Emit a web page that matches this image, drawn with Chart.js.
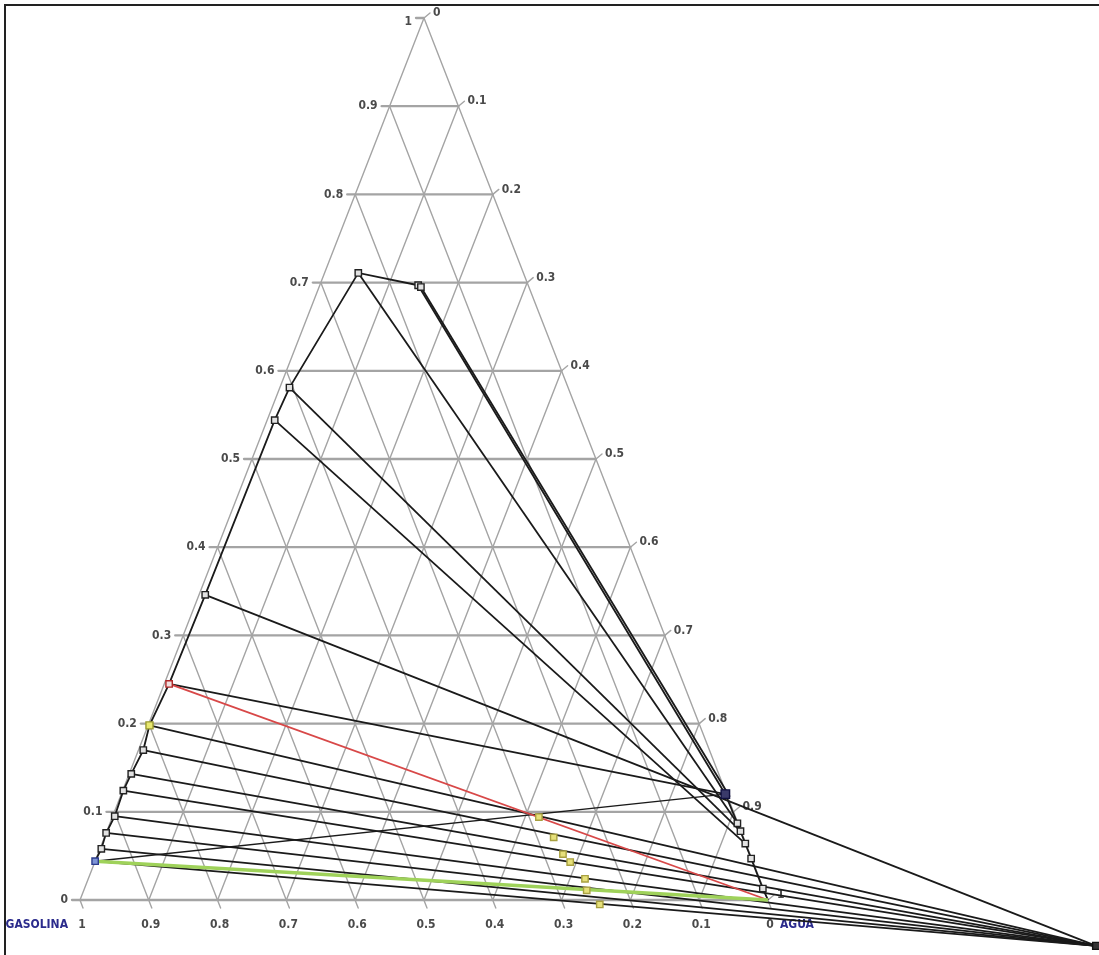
<!DOCTYPE html>
<html><head><meta charset="utf-8">
<script src="https://cdn.jsdelivr.net/npm/chart.js@4.4.0/dist/chart.umd.min.js"></script>
<style>html,body{margin:0;padding:0;background:#fff;overflow:hidden}#wrap{width:1099px;height:955px}</style>
</head><body><div id="wrap"><canvas id="c" width="1099" height="955"></canvas></div>
<script>
// Compositions are [agua, soluto]; gasolina = 1 - agua - soluto
const leftTicks   = ['0','0.1','0.2','0.3','0.4','0.5','0.6','0.7','0.8','0.9','1'];
const rightTicks  = ['1','0.9','0.8','0.7','0.6','0.5','0.4','0.3','0.2','0.1','0'];
const bottomTicks = ['1','0.9','0.8','0.7','0.6','0.5','0.4','0.3','0.2','0.1','0'];
const cornerLabels = ['GASOLINA','AGUA'];

// gasoline-rich phase (left branch)
const raffinate = [
  [0.000,0.044],[0.002,0.058],[0.000,0.076],[0.003,0.095],[0.001,0.124],
  [0.003,0.143],[0.007,0.170],[0.002,0.198],[0.007,0.245],[0.009,0.346],
  [0.011,0.544],[0.014,0.581],[0.049,0.711]
];
const plaitPoints = [[0.143,0.697],[0.148,0.695]];
// water-rich phase (right branch)
const extract = [
  [0.878,0.120],[0.912,0.087],[0.921,0.078],[0.935,0.064],[0.952,0.047],[0.986,0.013],[1.000,0.000]
];
const extractTwin = [0.886,0.117];
const mixPoints = [[0.620,0.094],[0.653,0.071],[0.676,0.052],[0.691,0.043],[0.722,0.024],[0.731,0.011],[0.758,-0.005]];
const deltaPoint = [1.503,-0.052];
// tie lines: [raffinate index, extract index]
const tieLines = [[12,1],[11,2],[10,3],[8,0]];
// operating lines to delta point from raffinate indices
const deltaLines = [0,1,2,3,4,5,6,7,9];

function P(c){ return {x: c[0] + c[1]/2, y: c[1]}; }
function lineDS(pts, color, width, order){
  return {data: pts.map(P), showLine:true, borderColor:color, borderWidth:width,
    pointRadius:0, pointHoverRadius:0, fill:false, tension:0, order:order};
}
function markDS(pts, fill, stroke, r){
  return {data: pts.map(P), showLine:false, pointStyle:'rect', pointRadius:r,
    backgroundColor:fill, borderColor:stroke, borderWidth:1.4, order:0};
}
const BLACK = '#1a1a1a';
const datasets = [];
datasets.push(lineDS(raffinate.concat([plaitPoints[0]]), BLACK, 1.8, 6));
datasets.push(lineDS([plaitPoints[0], extract[0]], BLACK, 1.8, 6));
datasets.push(lineDS([plaitPoints[1], extractTwin], BLACK, 1.8, 6));
datasets.push(lineDS(extract, BLACK, 1.8, 6));
tieLines.forEach(t => datasets.push(lineDS([raffinate[t[0]], extract[t[1]]], BLACK, 1.8, 6)));
deltaLines.forEach(i => datasets.push(lineDS([raffinate[i], deltaPoint], BLACK, 1.8, 6)));
datasets.push(lineDS([raffinate[0], extract[0]], BLACK, 1.4, 6));
datasets.push(lineDS([raffinate[8], extract[6]], '#d84848', 1.8, 4));
datasets.push(lineDS([raffinate[0], extract[6]], '#9fd25a', 3.5, 3));
// markers
datasets.push(markDS(raffinate.filter((c,i)=>i!==0&&i!==7&&i!==8).concat(plaitPoints), '#e2e2e2', '#222', 4.5));
datasets.push(markDS(extract.slice(1,6), '#e2e2e2', '#222', 4.5));
datasets.push(markDS([raffinate[0]], '#7d93d6', '#2c3c8c', 4.5));
datasets.push(markDS([raffinate[7]], '#e8e870', '#9a9a30', 5));
datasets.push(markDS([raffinate[8]], '#f0e0e0', '#b02828', 4.5));
datasets.push(markDS([extract[0]], '#3a3a6a', '#101040', 6));
datasets.push(markDS(mixPoints, '#e6e07a', '#a8a040', 4.5));
datasets.push(markDS([deltaPoint], '#333', '#111', 5));

const FONT = 'bold 12px "Liberation Sans Narrow", "Arial Narrow", "DejaVu Sans Condensed", sans-serif';
const gridPlugin = {
  id:'ternaryGrid',
  beforeDatasetsDraw(chart){
    const ctx = chart.ctx, sx = chart.scales.x, sy = chart.scales.y;
    const px = c => { const p = P(c); return [sx.getPixelForValue(p.x), sy.getPixelForValue(p.y)]; };
    ctx.save();
    ctx.strokeStyle = '#a4a4a4';
    ctx.lineCap = 'round';
    // horizontal lines (constant soluto)
    for (let i=0;i<=10;i++){
      const v=i/10;
      const a=px([0,v]), b=px([1-v,v]);
      ctx.lineWidth = 2.3;
      ctx.beginPath(); ctx.moveTo(a[0]-8,a[1]); ctx.lineTo(b[0],b[1]); ctx.stroke();
    }
    ctx.lineWidth = 1.4;
    for (let i=0;i<=10;i++){
      const v=i/10;
      // constant agua lines (agua = v)
      let a=px([v,0]), b=px([v,1-v]);
      ctx.beginPath(); ctx.moveTo(a[0],a[1]); ctx.lineTo(b[0],b[1]); ctx.stroke();
      // right tick
      ctx.beginPath(); ctx.moveTo(b[0],b[1]); ctx.lineTo(b[0]+6,b[1]-5); ctx.stroke();
      // constant gasolina lines (gasolina = 1 - v)
      a=px([v,0]); b=px([0,v]);
      ctx.beginPath(); ctx.moveTo(a[0]+3,a[1]+8); ctx.lineTo(b[0],b[1]); ctx.stroke();
    }
    // labels
    ctx.font = FONT; ctx.fillStyle = '#4a4a4a'; ctx.textBaseline='middle';
    for (let i=0;i<=10;i++){
      const v=i/10;
      const l=px([0,v]);
      ctx.textAlign='right'; ctx.fillText(leftTicks[i], l[0]-12, l[1]+(i===10?4:0));
      const r=px([1-v,v]);
      ctx.textAlign='left'; ctx.fillText(rightTicks[i], r[0]+9, r[1]-5);
      const btm=px([v,0]);
      ctx.textAlign='center'; ctx.fillText(bottomTicks[i], btm[0]+2, btm[1]+25);
    }
    ctx.fillStyle = '#2b2b8c';
    const g=px([0,0]), w=px([1,0]);
    ctx.textAlign='right'; ctx.fillText(cornerLabels[0], g[0]-12, g[1]+25);
    ctx.textAlign='left'; ctx.fillText(cornerLabels[1], w[0]+12, w[1]+25);
    ctx.restore();
  },
  afterDraw(chart){
    const ctx=chart.ctx;
    ctx.save(); ctx.strokeStyle='#222'; ctx.lineWidth=2;
    ctx.beginPath(); ctx.moveTo(5,960); ctx.lineTo(5,5); ctx.lineTo(1105,5); ctx.stroke();
    ctx.restore();
  }
};

new Chart(document.getElementById('c'), {
  type:'scatter',
  data:{datasets},
  options:{
    responsive:false, animation:false, devicePixelRatio:1, events:[],
    layout:{padding:0, autoPadding:false},
    plugins:{legend:{display:false}, tooltip:{enabled:false}},
    scales:{
      x:{type:'linear', display:false, min:-80/688, max:1019/688},
      y:{type:'linear', display:false, min:-55/882, max:900/882}
    }
  },
  plugins:[gridPlugin]
});
</script></body></html>
